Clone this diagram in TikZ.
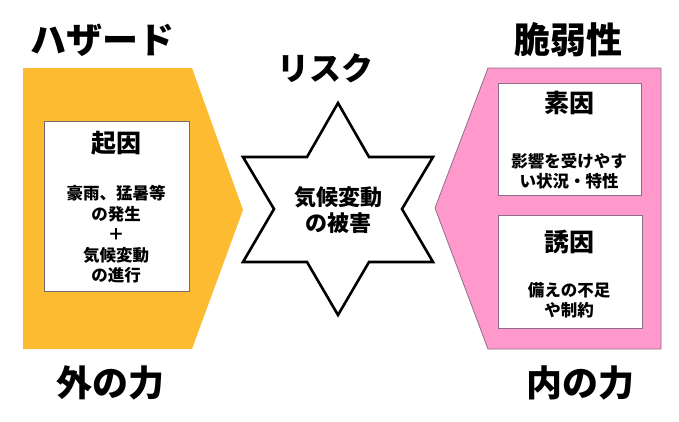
\documentclass[tikz,border=0pt]{standalone}
\usepackage{fontspec}
\setmainfont{Noto Sans CJK JP}
\definecolor{hazardfill}{RGB}{252,187,49}
\definecolor{vulnfill}{RGB}{255,153,204}
\definecolor{vulnline}{RGB}{140,110,140}
\definecolor{boxline}{RGB}{120,105,110}
\begin{document}
\begin{tikzpicture}[x=1pt,y=-1pt,
  titlesty/.style={anchor=center,font=\fontsize{36}{40}\selectfont\bfseries},
  headsty/.style={anchor=center,font=\fontsize{25}{30}\selectfont\bfseries},
  bodysty/.style={anchor=center,align=center,font=\fontsize{16.5}{20.5}\selectfont\bfseries},
  startext/.style={anchor=center,align=center,font=\fontsize{22}{26.5}\selectfont\bfseries},
  hazard/.style={fill=hazardfill},
  vuln/.style={fill=vulnfill,draw=vulnline,line width=0.8pt},
  whitebox/.style={fill=white,draw=boxline,line width=0.8pt}]
  \useasboundingbox (0,0) rectangle (679,421);

  % hazard side
  \fill[hazard] (23,68) -- (192,68) -- (243,210) -- (192,349) -- (23,349) -- cycle;
  \draw[whitebox] (44,121) rectangle (189,291);
  \node[titlesty] (hazard) at (102,40) {ハザード};
  \node[headsty] (cause) at (116,143) {起因};
  \node[bodysty] (causetext) at (116,234.5) {豪雨、猛暑等\\の発生\\＋\\気候変動\\の進行};
  \node[titlesty] (outer) at (110,383) {外の力};

  % risk star
  \draw[line width=2.6pt,line join=miter,fill=white] (338,103) -- (369,157) -- (433,157)
    -- (402,209) -- (433,262) -- (369,262) -- (338,315) -- (307,262) -- (243,262)
    -- (274,209) -- (243,157) -- (307,157) -- cycle;
  \node[titlesty,font=\fontsize{32}{36}\selectfont\bfseries] (risk) at (325,68) {リスク};
  \node[startext] (damage) at (338,210) {気候変動\\の被害};

  % vulnerability side
  \draw[vuln] (435,208) -- (488,68) -- (661,68) -- (661,349) -- (488,349) -- cycle;
  \draw[whitebox,draw=vulnline] (498,83) rectangle (641,195);
  \draw[whitebox,draw=vulnline] (498,215) rectangle (642,328);
  \node[titlesty] (vuln) at (568,40) {脆弱性};
  \node[headsty] (basic) at (569,103) {素因};
  \node[bodysty] (basictext) at (569,171) {影響を受けやす\\い状況・特性};
  \node[headsty] (trigger) at (569,242) {誘因};
  \node[bodysty] (triggertext) at (569,300) {備えの不足\\や制約};
  \node[titlesty] (inner) at (580,383) {内の力};

\end{tikzpicture}
\end{document}
